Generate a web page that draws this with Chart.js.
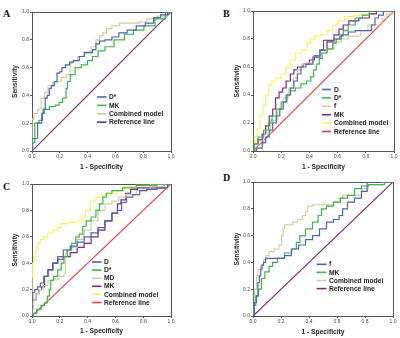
<!DOCTYPE html>
<html><head><meta charset="utf-8">
<script src="https://cdn.jsdelivr.net/npm/chart.js@4.4.0/dist/chart.umd.min.js"></script>
<style>
html,body{margin:0;padding:0;background:#fff;width:400px;height:338px;overflow:hidden;}
canvas{position:absolute;left:0;top:0;}
.lab{position:absolute;font:bold 10px "Liberation Serif","Times New Roman",serif;color:#111;line-height:12px;}
</style></head><body>
<div class="lab" style="left:3px;top:8px">A</div>
<div class="lab" style="left:223px;top:8px">B</div>
<div class="lab" style="left:3px;top:181px">C</div>
<div class="lab" style="left:223px;top:172px">D</div>
<canvas id="cA" width="400" height="338"></canvas>
<canvas id="cB" width="400" height="338"></canvas>
<canvas id="cC" width="400" height="338"></canvas>
<canvas id="cD" width="400" height="338"></canvas>
<script>
// ---------- tick labels / titles ----------
const tickVals = [0, 0.2, 0.4, 0.6, 0.8, 1.0];
const tickLabels = ['0.0', '0.2', '0.4', '0.6', '0.8', '1.0'];
const xTitle = '1 - Specificity';
const yTitle = 'Sensitivity';

// ---------- reference line ----------
const refX = [0, 1];
const refY = [0, 1];

// ---------- Panel A ----------
const aLabels = ['D*', 'MK', 'Combined model', 'Reference line'];
const aDstarX = [0,0,0.04,0.04,0.07,0.07,0.09,0.10,0.12,0.13,0.15,0.17,0.19,0.21,0.22,0.26,0.28,0.32,0.36,0.39,0.42,0.45,0.47,0.50,0.55,0.60,0.65,0.72,0.78,0.85,0.90,0.95,1];
const aDstarY = [0,0.09,0.09,0.20,0.20,0.27,0.30,0.38,0.40,0.45,0.47,0.50,0.56,0.57,0.60,0.62,0.64,0.65,0.68,0.71,0.71,0.73,0.77,0.79,0.80,0.82,0.85,0.87,0.90,0.92,0.96,0.98,1];
const aMkX = [0,0.01,0.03,0.07,0.08,0.10,0.15,0.19,0.20,0.24,0.25,0.26,0.29,0.33,0.38,0.42,0.45,0.50,0.55,0.63,0.70,0.76,0.85,0.92,1];
const aMkY = [0,0.06,0.20,0.22,0.27,0.30,0.32,0.33,0.35,0.38,0.45,0.50,0.55,0.60,0.62,0.65,0.68,0.72,0.75,0.80,0.84,0.87,0.90,0.95,1];
const aCmX = [0,0,0.03,0.05,0.08,0.10,0.13,0.17,0.20,0.22,0.27,0.28,0.30,0.36,0.40,0.45,0.47,0.50,0.52,0.55,0.60,0.66,0.75,0.80,0.85,0.95,1];
const aCmY = [0,0.23,0.27,0.30,0.38,0.42,0.47,0.49,0.50,0.53,0.55,0.63,0.65,0.68,0.70,0.75,0.80,0.83,0.85,0.88,0.90,0.92,0.92,0.93,0.95,0.97,1];

// ---------- Panel B ----------
const bLabels = ['D', 'D*', 'f', 'MK', 'Combined model', 'Reference line'];
const bDX = [0,0.05,0.08,0.10,0.13,0.15,0.18,0.20,0.23,0.25,0.28,0.30,0.33,0.35,0.40,0.45,0.50,0.50,0.55,0.60,0.65,0.70,0.75,0.83,0.85,0.88,0.90,0.95,1];
const bDY = [0,0.02,0.06,0.10,0.15,0.20,0.25,0.30,0.35,0.40,0.45,0.50,0.55,0.60,0.62,0.67,0.72,0.79,0.79,0.80,0.83,0.85,0.86,0.86,0.90,0.95,0.97,1,1];
const bDsX = [0,0.02,0.05,0.10,0.12,0.15,0.18,0.22,0.25,0.28,0.32,0.36,0.40,0.42,0.44,0.46,0.48,0.50,0.55,0.58,0.60,0.63,0.65,0.70,0.75,0.80,0.85,1];
const bDsY = [0,0.05,0.10,0.15,0.20,0.25,0.30,0.35,0.40,0.43,0.45,0.48,0.50,0.53,0.58,0.62,0.66,0.70,0.73,0.77,0.80,0.82,0.86,0.90,0.95,0.97,1,1];
const bFX = [0,0.05,0.10,0.15,0.20,0.23,0.27,0.30,0.33,0.36,0.40,0.45,0.50,0.55,0.60,0.65,0.70,0.75,0.78,0.85,0.90,0.93,0.97,1];
const bFY = [0,0.05,0.12,0.22,0.30,0.38,0.45,0.52,0.58,0.62,0.63,0.67,0.70,0.73,0.78,0.80,0.82,0.82,0.86,0.90,0.90,0.95,0.98,1];
const bMkX = [0,0.02,0.05,0.08,0.10,0.13,0.15,0.17,0.20,0.22,0.25,0.28,0.30,0.33,0.38,0.42,0.45,0.50,0.55,0.60,0.62,0.66,0.70,0.80,0.85,0.90,1];
const bMkY = [0,0.05,0.08,0.12,0.18,0.25,0.30,0.38,0.42,0.45,0.50,0.55,0.58,0.60,0.62,0.65,0.68,0.72,0.78,0.83,0.87,0.90,0.93,0.95,0.98,1,1];
const bCmX = [0,0.02,0.04,0.06,0.08,0.10,0.12,0.15,0.18,0.22,0.25,0.28,0.32,0.37,0.40,0.42,0.45,0.50,0.55,0.58,0.62,0.68,0.75,0.85,0.90,1];
const bCmY = [0,0.10,0.15,0.25,0.33,0.40,0.47,0.50,0.52,0.55,0.60,0.65,0.70,0.72,0.77,0.80,0.82,0.83,0.86,0.90,0.93,0.96,0.97,0.98,1,1];

// ---------- Panel C ----------
const cLabels = ['D', 'D*', 'MD', 'MK', 'Combined model', 'Reference line'];
const cDX = [0,0,0.01,0.03,0.05,0.07,0.10,0.13,0.17,0.20,0.25,0.30,0.35,0.40,0.45,0.50,0.55,0.60,0.63,0.66,0.70,0.75,0.80,0.85,0.95,1];
const cDY = [0,0.12,0.18,0.20,0.22,0.25,0.30,0.35,0.40,0.45,0.50,0.53,0.56,0.60,0.63,0.67,0.72,0.78,0.80,0.86,0.90,0.92,0.95,0.96,0.97,1];
const cDsX = [0,0.02,0.05,0.08,0.10,0.12,0.13,0.14,0.17,0.20,0.22,0.24,0.27,0.30,0.33,0.35,0.38,0.40,0.45,0.47,0.50,0.52,0.55,0.60,0.70,0.80,1];
const cDsY = [0,0.02,0.05,0.08,0.10,0.15,0.20,0.27,0.30,0.35,0.40,0.45,0.50,0.55,0.60,0.62,0.68,0.72,0.75,0.80,0.85,0.90,0.93,0.95,0.97,0.99,1];
const cMdX = [0,0,0.02,0.04,0.06,0.10,0.13,0.17,0.22,0.24,0.24,0.26,0.30,0.35,0.40,0.45,0.50,0.55,0.60,0.65,0.70,0.80,0.90,1];
const cMdY = [0,0.05,0.12,0.17,0.20,0.23,0.27,0.28,0.30,0.32,0.47,0.50,0.52,0.58,0.65,0.72,0.80,0.85,0.87,0.90,0.92,0.95,0.98,1];
const cMkX = [0,0,0.02,0.04,0.06,0.08,0.10,0.13,0.17,0.20,0.25,0.30,0.35,0.40,0.45,0.50,0.55,0.60,0.63,0.65,0.70,0.72,0.80,0.90,1];
const cMkY = [0,0.07,0.12,0.17,0.20,0.22,0.30,0.35,0.40,0.43,0.45,0.48,0.52,0.55,0.60,0.65,0.72,0.78,0.85,0.88,0.93,0.96,0.97,0.97,1];
const cCmX = [0,0,0.01,0.02,0.03,0.05,0.07,0.10,0.13,0.17,0.20,0.22,0.30,0.35,0.37,0.40,0.44,0.48,0.55,0.60,0.63,0.70,0.80,0.90,1];
const cCmY = [0,0.30,0.40,0.45,0.50,0.55,0.58,0.60,0.63,0.65,0.67,0.70,0.71,0.72,0.75,0.80,0.87,0.90,0.92,0.93,0.95,0.98,0.99,1,1];

// ---------- Panel D ----------
const dLabels = ['f', 'MK', 'Combined model', 'Reference line'];
const dFX = [0,0.02,0.03,0.04,0.05,0.06,0.07,0.08,0.10,0.15,0.20,0.25,0.30,0.35,0.40,0.45,0.50,0.55,0.60,0.63,0.65,0.70,0.75,0.80,0.83,1];
const dFY = [0,0.10,0.15,0.25,0.30,0.35,0.38,0.40,0.43,0.43,0.43,0.45,0.50,0.53,0.57,0.60,0.65,0.70,0.72,0.75,0.80,0.85,0.88,0.93,1,1];
const dMkX = [0,0.01,0.03,0.05,0.07,0.10,0.13,0.15,0.20,0.25,0.30,0.32,0.35,0.40,0.45,0.48,0.50,0.55,0.60,0.65,0.70,0.75,0.80,0.85,0.93,0.95,1];
const dMkY = [0,0.08,0.15,0.20,0.28,0.33,0.37,0.40,0.43,0.47,0.50,0.55,0.60,0.65,0.70,0.75,0.80,0.82,0.85,0.88,0.90,0.95,0.97,0.98,0.98,1,1];
const dCmX = [0,0,0.02,0.03,0.04,0.07,0.08,0.10,0.13,0.17,0.20,0.21,0.22,0.23,0.27,0.30,0.34,0.37,0.38,0.40,0.45,0.55,0.60,0.63,0.65,0.75,0.80,0.85,0.90,0.95,1];
const dCmY = [0,0.05,0.20,0.30,0.35,0.38,0.42,0.45,0.48,0.50,0.53,0.60,0.65,0.68,0.68,0.70,0.72,0.75,0.78,0.82,0.83,0.83,0.85,0.88,0.90,0.90,0.95,0.98,0.98,1,1];

// ---------- styling ----------
const BLUE = '#4d66b2', GREEN = '#3db54a', TAN = '#d4ce9c', PURPLE = '#7c2a7e', YELLOW = '#f6f36a', RED = '#e8403f';
const FAMILY = '"Liberation Sans", Arial, sans-serif';
const TICK_SIZE = 5, XT_SIZE = 6.7, YT_SIZE = 6.6, LEG_SIZE = 6.7;

const panels = [
  { id: 'cA', box: {l: 32, t: 12, r: 171, b: 151}, yTitleX: 15, xTitleY: 167,
    legend: {x0: 97, x1: 106.5, tx: 109, y0: 97, dy: 8.4},
    series: [[aDstarX, aDstarY], [aMkX, aMkY], [aCmX, aCmY], [refX, refY]],
    labels: aLabels, colors: [BLUE, GREEN, TAN, PURPLE] },
  { id: 'cB', box: {l: 253, t: 11, r: 394, b: 151}, yTitleX: 237, xTitleY: 167,
    legend: {x0: 322, x1: 331, tx: 334, y0: 89.5, dy: 8.4},
    series: [[bDX, bDY], [bDsX, bDsY], [bFX, bFY], [bMkX, bMkY], [bCmX, bCmY], [refX, refY]],
    labels: bLabels, colors: [BLUE, GREEN, TAN, PURPLE, YELLOW, RED] },
  { id: 'cC', box: {l: 32, t: 184, r: 171, b: 316}, yTitleX: 15, xTitleY: 331.5,
    legend: {x0: 92, x1: 101.5, tx: 104, y0: 262, dy: 8.1},
    series: [[cDX, cDY], [cDsX, cDsY], [cMdX, cMdY], [cMkX, cMkY], [cCmX, cCmY], [refX, refY]],
    labels: cLabels, colors: [BLUE, GREEN, TAN, PURPLE, YELLOW, RED] },
  { id: 'cD', box: {l: 253, t: 182, r: 393, b: 316}, yTitleX: 237, xTitleY: 332,
    legend: {x0: 316.5, x1: 326.5, tx: 329, y0: 264.3, dy: 8.1},
    series: [[dFX, dFY], [dMkX, dMkY], [dCmX, dCmY], [refX, refY]],
    labels: dLabels, colors: [BLUE, GREEN, TAN, PURPLE] }
];

function pts(xs, ys) { return xs.map((x, i) => ({x: x, y: ys[i]})); }

const boxPlugin = {
  id: 'plotBox',
  beforeDatasetsDraw(chart) {
    const {ctx, chartArea: a} = chart;
    ctx.save();
    ctx.strokeStyle = '#555';
    ctx.lineWidth = 1;
    ctx.strokeRect(a.left + 0.5, a.top + 0.5, a.right - a.left, a.bottom - a.top);
    ctx.restore();
  }
};

const legendPlugin = {
  id: 'innerLegend',
  afterDatasetsDraw(chart, args, opts) {
    const {ctx} = chart;
    ctx.save();
    chart.data.datasets.forEach((ds, i) => {
      const y = opts.y0 + i * opts.dy;
      ctx.strokeStyle = ds.borderColor;
      ctx.lineWidth = 1.6;
      ctx.beginPath();
      ctx.moveTo(opts.x0, y);
      ctx.lineTo(opts.x1, y);
      ctx.stroke();
      ctx.fillStyle = '#222';
      ctx.font = 'bold ' + LEG_SIZE + 'px ' + FAMILY;
      ctx.textBaseline = 'middle';
      ctx.fillText(ds.label, opts.tx, y + 0.3);
    });
    ctx.restore();
  }
};

panels.forEach(p => {
  const yHalf = YT_SIZE * 1.2 / 2, xHalf = XT_SIZE * 1.2 / 2;
  const padLeft = p.yTitleX - yHalf;
  const scaleBottom = p.xTitleY + xHalf;
  const n = p.series.length;
  const datasets = p.series.map((s, i) => ({
    label: p.labels[i],
    data: pts(s[0], s[1]),
    showLine: true,
    borderColor: p.colors[i],
    backgroundColor: p.colors[i],
    borderWidth: 1.2,
    pointRadius: 0,
    tension: 0,
    fill: false,
    stepped: i === n - 1 ? false : 'middle'
  }));
  const tickCfg = {
    font: {size: TICK_SIZE, family: FAMILY},
    color: '#444',
    padding: 1,
    maxRotation: 0,
    autoSkip: false,
    callback: (v, idx) => tickLabels[idx]
  };
  new Chart(document.getElementById(p.id), {
    type: 'scatter',
    data: {datasets: datasets},
    options: {
      responsive: false,
      animation: false,
      events: [],
      layout: {padding: {left: padLeft, top: p.box.t, right: 400 - p.box.r, bottom: 338 - scaleBottom}},
      plugins: {legend: {display: false}, tooltip: {enabled: false}, innerLegend: p.legend},
      scales: {
        x: {
          type: 'linear', min: 0, max: 1,
          afterBuildTicks: s => { s.ticks = tickVals.map(v => ({value: v})); },
          ticks: tickCfg,
          grid: {drawOnChartArea: false, tickLength: 2, color: '#555'},
          border: {display: false},
          title: {display: true, text: xTitle, font: {size: XT_SIZE, weight: 'bold', family: FAMILY}, color: '#222', padding: 0},
          afterFit: s => { s.height = scaleBottom - p.box.b; }
        },
        y: {
          type: 'linear', min: 0, max: 1,
          afterBuildTicks: s => { s.ticks = tickVals.map(v => ({value: v})); },
          ticks: tickCfg,
          grid: {drawOnChartArea: false, tickLength: 2, color: '#555'},
          border: {display: false},
          title: {display: true, text: yTitle, font: {size: YT_SIZE, weight: 'bold', family: FAMILY}, color: '#222', padding: 0},
          afterFit: s => { s.width = p.box.l - padLeft; }
        }
      }
    },
    plugins: [boxPlugin, legendPlugin]
  });
});
</script>
</body></html>
